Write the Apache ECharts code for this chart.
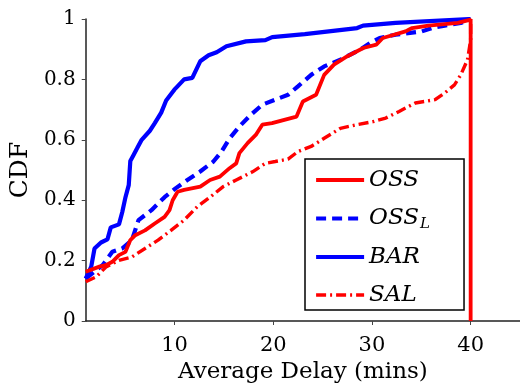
<!DOCTYPE html>
<html>
<head>
<meta charset="utf-8">
<script src="https://cdn.jsdelivr.net/npm/echarts@6/dist/echarts.min.js"></script>
<style>html,body{margin:0;padding:0;background:#fff}#c{width:520px;height:390px}</style>
</head>
<body>
<div id="c"></div>
<script>
const seriesNames = ['OSS', 'OSS_L', 'BAR', 'SAL'];
const xTicks = [10, 20, 30, 40];
const yTickLabels = ['0', '0.2', '0.4', '0.6', '0.8', '1'];
const xAxisName = 'Average Delay (mins)';
const yAxisName = 'CDF';

const ossData = [[1.0,0.163],[2.39,0.18],[3.05,0.185],[3.7,0.196],[4.37,0.218],[5.03,0.229],[5.52,0.268],[6.02,0.284],[7.01,0.30],[8.0,0.323],[8.99,0.345],[9.49,0.367],[9.81,0.40],[10.31,0.428],[10.97,0.434],[12.61,0.445],[13.6,0.467],[14.59,0.478],[15.58,0.506],[16.25,0.522],[16.57,0.556],[17.4,0.589],[18.23,0.616],[18.89,0.65],[19.88,0.655],[22.36,0.677],[23.0,0.727],[24.34,0.749],[25.16,0.815],[26.15,0.849],[27.47,0.876],[29.12,0.904],[30.44,0.915],[31.1,0.937],[33.4,0.959],[34.07,0.97],[35.72,0.978],[38.69,0.987],[40,0.998],[40,1.0],[40,0]];
const ossLData = [[1.0,0.14],[2.71,0.185],[3.7,0.229],[4.69,0.24],[5.68,0.268],[6.35,0.334],[7.66,0.367],[8.99,0.41],[10.14,0.44],[11.3,0.467],[12.6,0.495],[13.94,0.528],[14.76,0.561],[15.58,0.605],[16.57,0.644],[17.73,0.683],[18.89,0.716],[20.2,0.733],[21.5,0.749],[22.5,0.777],[23.84,0.815],[25.16,0.843],[26.8,0.865],[28.8,0.898],[29.78,0.92],[30.77,0.937],[32.4,0.948],[35.06,0.959],[36.05,0.97],[37.37,0.978],[39.0,0.987],[40,0.998]];
const barData = [[1.0,0.14],[1.56,0.18],[1.89,0.24],[2.55,0.26],[3.2,0.27],[3.54,0.31],[4.37,0.32],[4.7,0.36],[5.03,0.41],[5.36,0.45],[5.52,0.53],[5.85,0.55],[6.18,0.57],[6.67,0.60],[7.5,0.63],[8.0,0.655],[8.65,0.69],[9.15,0.73],[9.98,0.766],[10.3,0.777],[10.97,0.80],[11.8,0.805],[12.6,0.86],[13.45,0.88],[14.27,0.89],[15.26,0.91],[17.24,0.926],[19.2,0.93],[19.9,0.94],[23.2,0.95],[28.5,0.97],[29.1,0.978],[32.4,0.987],[40,1.0]];
const salData = [[1.0,0.13],[2.06,0.146],[3.05,0.179],[4.37,0.201],[5.68,0.212],[7.01,0.24],[8.33,0.268],[9.64,0.30],[10.97,0.334],[12.29,0.378],[13.6,0.41],[14.93,0.445],[16.25,0.467],[17.9,0.494],[19.2,0.522],[20.2,0.528],[21.5,0.536],[22.5,0.561],[23.84,0.578],[25.16,0.605],[26.8,0.638],[28.46,0.65],[30.1,0.66],[31.4,0.672],[32.75,0.694],[34.4,0.722],[36.4,0.733],[37.37,0.755],[38.36,0.782],[39.0,0.815],[39.68,0.865],[40,0.93],[40,1.0]];

const serif = '"DejaVu Serif", "Liberation Serif", serif';
const chart = echarts.init(document.getElementById('c'), null, {renderer: 'canvas'});
chart.setOption({
  animation: false,
  backgroundColor: '#fff',
  grid: {left: 76, right: 0, top: 19, bottom: 69, containLabel: false},
  xAxis: {
    type: 'value', min: 1, max: 45,
    name: xAxisName, nameLocation: 'middle', nameGap: 36,
    nameTextStyle: {fontFamily: serif, fontSize: 23, color: '#000'},
    axisLine: {show: true, onZero: false, lineStyle: {color: '#222', width: 1.5}},
    axisTick: {show: true, length: 4, inside: false, customValues: xTicks, lineStyle: {color: '#444', width: 1}},
    axisLabel: {customValues: xTicks, margin: 14, fontFamily: serif, fontSize: 21, color: '#000'},
    splitLine: {show: false}
  },
  yAxis: {
    type: 'value', min: 0, max: 1, interval: 0.2,
    name: yAxisName, nameLocation: 'middle', nameGap: 45, nameRotate: 90,
    nameTextStyle: {fontFamily: serif, fontSize: 25, color: '#000'},
    axisLine: {show: true, lineStyle: {color: '#222', width: 1.5}},
    axisTick: {show: true, length: 4, lineStyle: {color: '#444', width: 1}},
    axisLabel: {margin: 10, fontFamily: serif, fontSize: 20, color: '#000',
      formatter: function (v) { return yTickLabels[Math.round(v / 0.2)]; }},
    splitLine: {show: false}
  },
  legend: {
    orient: 'vertical', left: 305, top: 159,
    data: seriesNames,
    itemWidth: 48, itemHeight: 14, itemGap: 12,
    padding: [8, 34, 2, 9],
    itemStyle: {color: 'rgba(0,0,0,0)', borderWidth: 0, opacity: 0},
    lineStyle: {width: 'inherit', type: 'inherit'},
    backgroundColor: '#fff', borderColor: '#000', borderWidth: 1.5, borderRadius: 0,
    textStyle: {fontFamily: serif, fontStyle: 'italic', fontSize: 23, lineHeight: 26, color: '#000',
      rich: {
        m: {fontFamily: serif, fontStyle: 'italic', fontSize: 23, lineHeight: 26, color: '#000'},
        sub: {fontFamily: serif, fontStyle: 'italic', fontSize: 15, lineHeight: 26, color: '#000', padding: [12, 0, 0, 1]}
      }},
    formatter: function (name) {
      const i = name.indexOf('_');
      return i < 0 ? name : '{m|' + name.slice(0, i) + '}{sub|' + name.slice(i + 1) + '}';
    }
  },
  series: [
    {name: seriesNames[0], type: 'line', data: ossData, symbol: 'none', z: 4,
     lineStyle: {color: '#ff0000', width: 3.8}, itemStyle: {color: '#ff0000'}},
    {name: seriesNames[1], type: 'line', data: ossLData, symbol: 'none', z: 3,
     lineStyle: {color: '#0000ff', width: 4.2, type: [10, 6]}, itemStyle: {color: '#0000ff'}},
    {name: seriesNames[2], type: 'line', data: barData, symbol: 'none', z: 3,
     lineStyle: {color: '#0000ff', width: 4.2}, itemStyle: {color: '#0000ff'}},
    {name: seriesNames[3], type: 'line', data: salData, symbol: 'none', z: 3,
     lineStyle: {color: '#ff0000', width: 3.4, type: [10, 4, 2, 4]}, itemStyle: {color: '#ff0000'}}
  ]
});
</script>
</body>
</html>
